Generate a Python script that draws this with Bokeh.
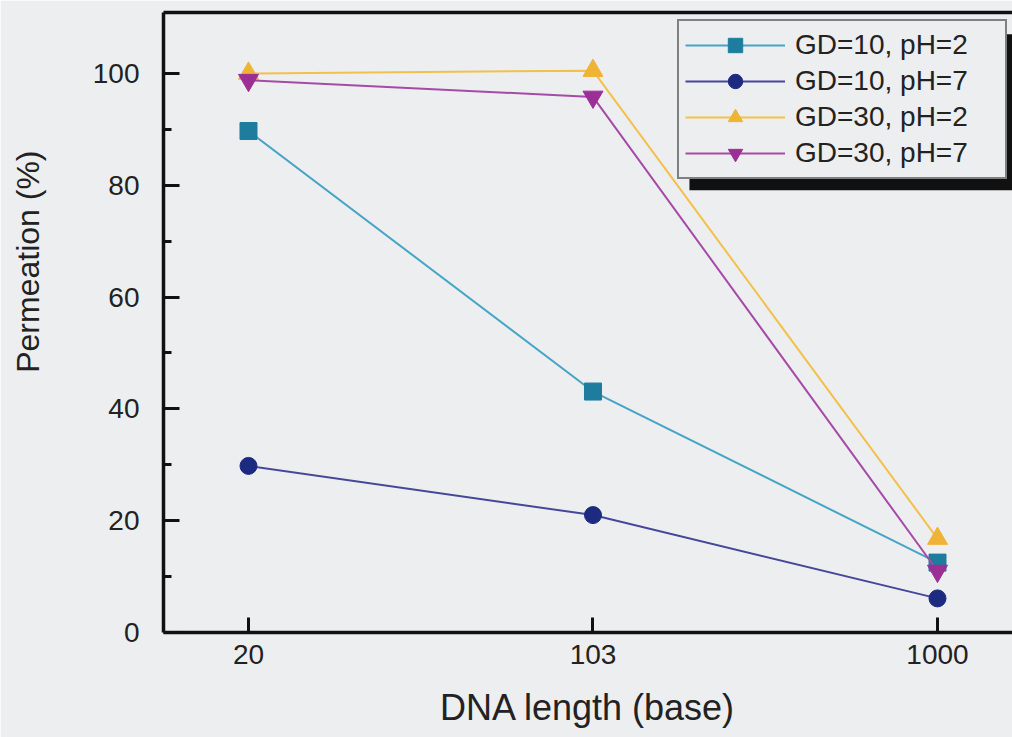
from bokeh.plotting import figure
from bokeh.models import (Range1d, FixedTicker, LinearAxis, Legend, LegendItem,
                          Title, BoxAnnotation)
from bokeh.embed import file_html
from bokeh.resources import INLINE

# ---- data ----
dna_lengths = ["20", "103", "1000"]
series_names = ["GD=10, pH=2", "GD=10, pH=7", "GD=30, pH=2", "GD=30, pH=7"]
gd10_ph2 = [89.7, 43.1, 12.5]
gd10_ph7 = [29.8, 21.0, 6.1]
gd30_ph2 = [100.0, 100.5, 16.8]
gd30_ph7 = [98.8, 95.8, 11.0]
y_ticks = [0, 20, 40, 60, 80, 100]
y_minor = [10, 30, 50, 70, 90]

x_idx = list(range(len(dna_lengths)))

BG = "#eceef0"
FONT = "Liberation Sans"

p = figure(width=1012, height=737, output_backend="svg", toolbar_location=None,
           x_range=Range1d(-0.2467, 2.2177), y_range=Range1d(0, 110.9),
           min_border_left=163, min_border_right=0, min_border_top=12,
           min_border_bottom=105, background_fill_color=BG,
           border_fill_color=BG, outline_line_color=None)
p.xgrid.visible = False
p.ygrid.visible = False

# axes
xa = p.xaxis[0]
xa.ticker = FixedTicker(ticks=x_idx, minor_ticks=[])
xa.major_label_overrides = {i: s for i, s in zip(x_idx, dna_lengths)}
ya = p.yaxis[0]
ya.ticker = FixedTicker(ticks=y_ticks, minor_ticks=y_minor)

for ax in (xa, ya):
    ax.axis_line_width = 3.5
    ax.axis_line_color = "#111111"
    ax.major_tick_line_color = "#111111"
    ax.major_tick_line_width = 3
    ax.minor_tick_line_color = "#111111"
    ax.minor_tick_line_width = 3
    ax.major_tick_out = 0
    ax.minor_tick_out = 0
    ax.major_label_text_font = FONT
    ax.major_label_text_font_size = "28px"
    ax.major_label_text_color = "#222222"
xa.major_tick_in = 15
xa.minor_tick_in = 0
ya.major_tick_in = 16
ya.minor_tick_in = 8
xa.major_label_standoff = 12
ya.major_label_standoff = 24

xa.axis_label = "DNA length (base)"
xa.axis_label_text_font = FONT
xa.axis_label_text_font_size = "36px"
xa.axis_label_text_font_style = "normal"
xa.axis_label_text_color = "#222222"
xa.axis_label_standoff = 20

# spacer so that the y title sits near the left edge
ya.axis_label = " "
ya.axis_label_text_font_size = "4px"
ya.axis_label_standoff = 30

# top border line
top = LinearAxis(ticker=FixedTicker(ticks=[]), major_tick_in=0, major_tick_out=0,
                 minor_tick_in=0, minor_tick_out=0,
                 major_label_text_font_size="0px",
                 axis_line_width=3.5, axis_line_color="#111111")
p.add_layout(top, "above")

# y axis title (placed higher than centre, as in the reference)
ytitle = Title(text="Permeation (%)", align="right", offset=138,
               vertical_align="middle", text_font=FONT, text_font_size="32px",
               text_font_style="normal", text_color="#222222")
p.add_layout(ytitle, "left")

styles = [
    (gd10_ph2, "#46a4c6", "#1e7d9e", "square", 17),
    (gd10_ph7, "#45479a", "#1c2a80", "circle", 17),
    (gd30_ph2, "#f3c14b", "#efb336", "triangle", 20),
    (gd30_ph7, "#a64aa8", "#9c2f96", "inverted_triangle", 20),
]

items = []
for name, (vals, lc, mc, mk, sz) in zip(series_names, styles):
    r1 = p.line(x_idx, vals, line_color=lc, line_width=2)
    r2 = p.scatter(x_idx, vals, marker=mk, size=sz, fill_color=mc,
                   line_color=mc, line_width=1)
    items.append(LegendItem(label=name, renderers=[r1, r2]))

# legend shadow
shadow = BoxAnnotation(left=1.28, right=2.4, top=107.0, bottom=79.1,
                       fill_color="#111111", fill_alpha=1, line_color=None)
p.add_layout(shadow)

legend = Legend(items=items, location=(514, 453),
                background_fill_color=BG, background_fill_alpha=1,
                border_line_color="#111111", border_line_width=2.5,
                label_text_font=FONT, label_text_font_size="28px",
                label_text_color="#222222",
                glyph_width=100, glyph_height=36, label_height=28,
                label_width=204, label_standoff=10, spacing=0, padding=6,
                margin=0)
p.add_layout(legend, "center")

open("out.html", "w").write(file_html(p, INLINE))
